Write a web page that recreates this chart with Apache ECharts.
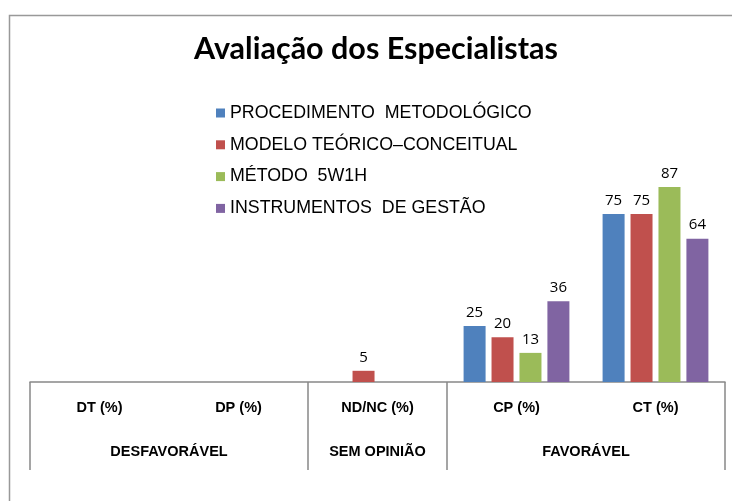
<!DOCTYPE html>
<html>
<head>
<meta charset="utf-8">
<script src="https://cdn.jsdelivr.net/npm/echarts@6/dist/echarts.min.js"></script>
<style>
html,body{margin:0;padding:0;background:#fff;}
#chart{width:732px;height:501px;}
</style>
</head>
<body>
<div id="chart"></div>
<script>
const titleText = 'Avaliação dos Especialistas';
const categories = ['DT (%)', 'DP (%)', 'ND/NC (%)', 'CP (%)', 'CT (%)'];
const groupLabels = ['DESFAVORÁVEL', 'SEM OPINIÃO', 'FAVORÁVEL'];
const groupCenters = [1, 2.5, 4];
const groupBounds = [0, 2, 3, 5];
const seriesNames = ['PROCEDIMENTO  METODOLÓGICO', 'MODELO TEÓRICO–CONCEITUAL', 'MÉTODO  5W1H', 'INSTRUMENTOS  DE GESTÃO'];
const procedimento = [null, null, null, 25, 75];
const modelo = [null, null, 5, 20, 75];
const metodo = [null, null, null, 13, 87];
const instrumentos = [null, null, null, 36, 64];
const colors = ['#4F81BD', '#C0504D', '#9BBB59', '#8064A2'];

const chart = echarts.init(document.getElementById('chart'), null, {renderer: 'canvas'});
const values = [procedimento, modelo, metodo, instrumentos];
const option = {
  animation: false,
  backgroundColor: '#fff',
  title: {
    text: titleText,
    left: 189,
    top: 29,
    textStyle: {fontFamily: 'Lato', fontWeight: 'bold', fontSize: 30.5, color: '#000'}
  },
  legend: {
    orient: 'vertical',
    left: 211,
    top: 99,
    itemWidth: 9,
    itemHeight: 9,
    itemGap: 13.8,
    icon: 'rect',
    textStyle: {fontFamily: 'Liberation Sans', fontSize: 17.8, color: '#000', lineHeight: 18},
    data: seriesNames
  },
  grid: {left: 30, right: 7, top: 158, bottom: 119, containLabel: false},
  xAxis: [
    {
      type: 'category',
      data: categories,
      axisLine: {show: true, lineStyle: {color: '#888', width: 1.5}},
      axisTick: {show: false},
      axisLabel: {margin: 18, fontFamily: 'Liberation Sans', fontWeight: 'bold', fontSize: 14.5, color: '#000'}
    },
    {
      type: 'value',
      position: 'bottom',
      min: 0,
      max: 5,
      axisLine: {show: false},
      splitLine: {show: false},
      axisTick: {show: true, customValues: groupBounds, length: 88, lineStyle: {color: '#888', width: 1.5}},
      axisLabel: {
        customValues: groupCenters,
        margin: 62,
        fontFamily: 'Liberation Sans', fontWeight: 'bold', fontSize: 14.5, color: '#000',
        formatter: function (v) {
          const i = groupCenters.indexOf(v);
          return i >= 0 ? groupLabels[i] : '';
        }
      }
    }
  ],
  yAxis: {type: 'value', min: 0, max: 100, show: false, splitLine: {show: false}},
  series: seriesNames.map(function (name, i) {
    return {
      name: name,
      type: 'bar',
      xAxisIndex: 0,
      data: values[i],
      barWidth: 22,
      barGap: '27%',
      itemStyle: {color: colors[i]},
      label: {show: true, position: 'top', distance: 6, fontFamily: 'Open Sans', fontSize: 15, color: '#000'}
    };
  }),
  graphic: [
    {type: 'rect', shape: {x: 9.5, y: 15.5, width: 800, height: 600}, style: {fill: 'none', stroke: '#999', lineWidth: 1.5}, silent: true}
  ]
};
chart.setOption(option);
</script>
</body>
</html>
